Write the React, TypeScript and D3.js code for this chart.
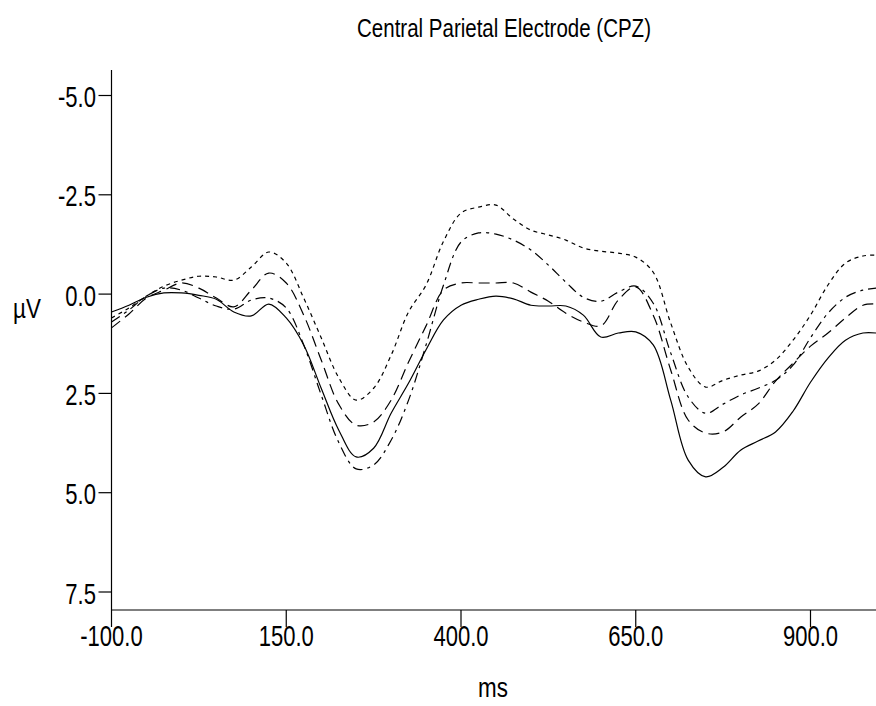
import React from "react";
import * as d3 from "d3";

const timesMs = [-100,-75,-50,-25,0,25,50,75,100,125,150,175,200,225,250,275,300,325,350,375,400,425,450,475,500,525,550,575,600,625,650,675,700,725,750,775,800,825,850,875,900,925,950,975,994];

const solidSeries = [0.45,0.28,0.08,-0.03,-0.03,0.03,0.13,0.45,0.55,0.25,0.6,1.28,2.37,3.42,4.1,3.88,3.0,2.24,1.4,0.65,0.28,0.13,0.05,0.12,0.28,0.3,0.3,0.53,1.08,0.98,0.95,1.28,2.67,4.18,4.6,4.36,3.93,3.7,3.47,2.95,2.22,1.61,1.16,0.98,0.98];

const longDashSeries = [0.85,0.5,0.1,-0.1,-0.28,-0.15,0.1,0.32,-0.1,-0.53,-0.28,0.53,1.66,2.77,3.3,3.22,2.67,1.71,0.8,-0.1,-0.28,-0.28,-0.28,-0.28,-0.05,0.18,0.48,0.7,0.8,0.15,-0.18,0.53,1.91,3.17,3.5,3.47,3.1,2.77,2.19,1.74,1.31,0.98,0.6,0.28,0.25];

const dashDotSeries = [0.7,0.4,0.05,-0.15,-0.1,0.1,0.3,0.38,0.15,0.1,0.35,1.28,2.54,3.73,4.4,4.3,3.68,2.67,1.28,-0.23,-1.31,-1.54,-1.51,-1.36,-1.11,-0.73,-0.3,0.08,0.18,-0.05,-0.2,0.23,1.48,2.59,3.0,2.77,2.54,2.37,2.17,1.79,1.1,0.48,0.08,-0.1,-0.15];

const dottedSeries = [0.6,0.35,0.05,-0.2,-0.35,-0.45,-0.43,-0.35,-0.68,-1.06,-0.78,0.1,1.1,2.1,2.67,2.37,1.54,0.45,-0.23,-1.33,-2.04,-2.19,-2.24,-1.89,-1.61,-1.49,-1.36,-1.16,-1.08,-1.03,-0.93,-0.55,0.73,1.84,2.34,2.17,2.04,1.94,1.66,1.16,0.53,-0.23,-0.78,-0.96,-0.98];

const xTicks = [-100, 150, 400, 650, 900];
const yTicks = [-5, -2.5, 0, 2.5, 5, 7.5];

const titleText = "Central Parietal Electrode (CPZ)";
const xLabel = "ms";
const yLabel = "µV";

const FONT = "'Liberation Sans', Arial, sans-serif";

function NText(props: { x: number; y: number; size: number; sx: number; anchor?: string; children: React.ReactNode }) {
  const { x, y, size, sx, anchor = "start", children } = props;
  return (
    <g transform={`translate(${x},${y}) scale(${sx},1)`}>
      <text x={0} y={0} textAnchor={anchor as any} fontFamily={FONT} fontSize={size} fill="#000">
        {children}
      </text>
    </g>
  );
}

export default function App() {
  const x = d3.scaleLinear().domain([-100, 900]).range([111.5, 810.5]);
  const y = d3.scaleLinear().domain([-5, 7.5]).range([95.5, 592]);

  const line = d3
    .line<number>()
    .x((_, i) => x(timesMs[i]))
    .y((d) => y(d))
    .curve(d3.curveCatmullRom.alpha(0.5));

  const series = [
    { values: solidSeries, dash: "none" },
    { values: longDashSeries, dash: "11,6" },
    { values: dashDotSeries, dash: "10,5,3,5" },
    { values: dottedSeries, dash: "4,4" },
  ];

  const axisY = 610;
  const axisX = 111.5;

  return (
    <svg
      width={876}
      height={706}
      style={{ position: "absolute", left: 0, top: 0, background: "#fff" }}
    >
      <rect x={0} y={0} width={876} height={706} fill="#fff" />
      <NText x={504} y={37} size={25} sx={0.82} anchor="middle">
        {titleText}
      </NText>

      {/* y axis */}
      <line x1={axisX} x2={axisX} y1={70} y2={axisY} stroke="#000" strokeWidth={1.2} />
      {yTicks.map((t) => (
        <g key={t}>
          <line x1={axisX - 13} x2={axisX} y1={y(t)} y2={y(t)} stroke="#000" strokeWidth={1.2} />
          <NText x={96} y={y(t) + 11.5} size={29} sx={0.76} anchor="end">
            {t.toFixed(1)}
          </NText>
        </g>
      ))}
      <NText x={13} y={318} size={28} sx={0.8}>
        {yLabel}
      </NText>

      {/* x axis */}
      <line x1={axisX} x2={876} y1={axisY} y2={axisY} stroke="#000" strokeWidth={1.2} />
      {xTicks.map((t) => (
        <g key={t}>
          <line x1={x(t)} x2={x(t)} y1={axisY} y2={axisY + 17} stroke="#000" strokeWidth={1.2} />
          <NText x={x(t)} y={646} size={29} sx={0.76} anchor="middle">
            {t.toFixed(1)}
          </NText>
        </g>
      ))}
      <NText x={493} y={697} size={28} sx={0.8} anchor="middle">
        {xLabel}
      </NText>

      {/* data lines */}
      {series.map((s, i) => (
        <path
          key={i}
          d={line(s.values) || ""}
          fill="none"
          stroke="#000"
          strokeWidth={1.2}
          strokeDasharray={s.dash}
        />
      ))}
    </svg>
  );
}
